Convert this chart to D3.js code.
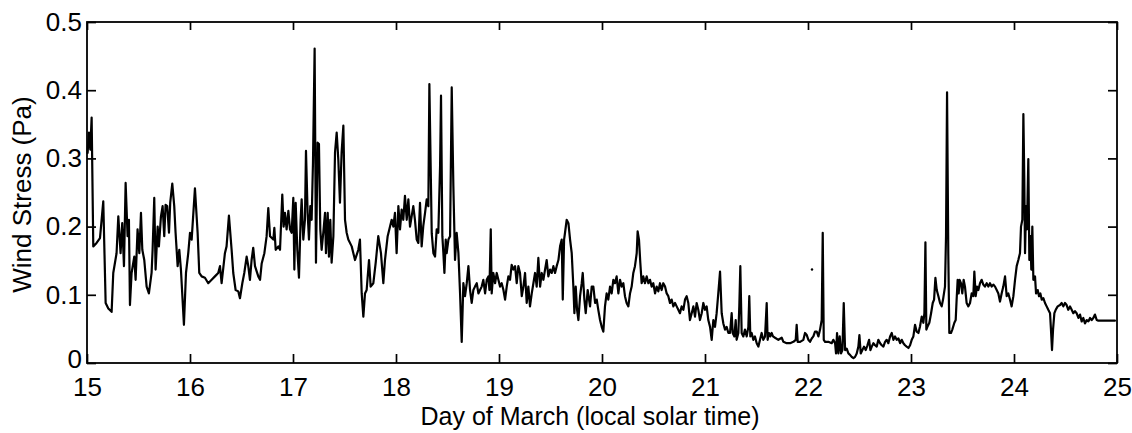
<!DOCTYPE html>
<html>
<head>
<meta charset="utf-8">
<script src="https://cdn.jsdelivr.net/npm/d3@7/dist/d3.min.js"></script>
<style>
  html, body { margin: 0; padding: 0; background: #fff; }
  svg { display: block; }
  text { font-family: "Liberation Sans", Arial, Helvetica, sans-serif; fill: #000; }
</style>
</head>
<body>
<svg id="chart" width="1132" height="433"></svg>
<script>
// Wind stress record, 15-25 March: [day of March, stress in Pa]
const record = [
  [15.006,0.308],[15.019,0.338],[15.032,0.313],[15.045,0.360],[15.061,0.171],[15.093,0.176],[15.126,0.183],[15.158,0.237],[15.181,0.088],[15.207,0.080],[15.239,0.075],[15.255,0.132],[15.287,0.161],[15.304,0.215],[15.326,0.161],[15.342,0.205],[15.359,0.142],[15.375,0.264],[15.394,0.186],[15.407,0.210],[15.417,0.085],[15.433,0.132],[15.459,0.156],[15.472,0.122],[15.491,0.196],[15.508,0.161],[15.524,0.220],[15.537,0.166],[15.556,0.151],[15.579,0.112],[15.601,0.102],[15.627,0.132],[15.637,0.166],[15.653,0.242],[15.666,0.137],[15.686,0.200],[15.698,0.171],[15.718,0.215],[15.734,0.230],[15.750,0.186],[15.763,0.232],[15.779,0.230],[15.796,0.191],[15.808,0.235],[15.828,0.263],[15.847,0.230],[15.860,0.191],[15.880,0.142],[15.896,0.166],[15.912,0.137],[15.941,0.056],[15.961,0.132],[15.983,0.161],[16.000,0.191],[16.016,0.181],[16.048,0.256],[16.074,0.191],[16.090,0.132],[16.113,0.127],[16.145,0.125],[16.177,0.117],[16.210,0.122],[16.242,0.127],[16.274,0.132],[16.291,0.142],[16.307,0.117],[16.339,0.161],[16.355,0.171],[16.378,0.216],[16.404,0.166],[16.420,0.132],[16.443,0.107],[16.469,0.105],[16.485,0.095],[16.508,0.117],[16.527,0.132],[16.550,0.156],[16.566,0.142],[16.582,0.122],[16.598,0.151],[16.614,0.169],
  [16.631,0.142],[16.663,0.127],[16.680,0.122],[16.696,0.146],[16.722,0.161],[16.744,0.186],[16.760,0.227],[16.777,0.186],[16.809,0.181],[16.819,0.198],[16.832,0.166],[16.858,0.171],[16.874,0.166],[16.896,0.247],[16.909,0.200],[16.922,0.220],[16.938,0.196],[16.955,0.223],[16.971,0.196],[16.987,0.191],[17.003,0.242],[17.013,0.137],[17.026,0.235],[17.042,0.166],[17.058,0.125],[17.074,0.210],[17.084,0.240],[17.100,0.181],[17.116,0.210],[17.126,0.311],[17.142,0.220],[17.155,0.181],[17.168,0.230],[17.181,0.210],[17.194,0.294],[17.210,0.461],[17.223,0.147],[17.239,0.323],[17.252,0.321],[17.265,0.196],[17.278,0.166],[17.294,0.191],[17.311,0.220],[17.320,0.161],[17.337,0.220],[17.349,0.156],[17.362,0.210],[17.375,0.147],[17.392,0.186],[17.408,0.309],[17.424,0.338],[17.440,0.298],[17.456,0.235],[17.472,0.309],[17.489,0.348],[17.505,0.210],[17.521,0.191],[17.537,0.181],[17.570,0.171],[17.602,0.151],[17.634,0.166],[17.650,0.181],[17.667,0.102],[17.683,0.068],[17.699,0.102],[17.715,0.107],[17.738,0.151],[17.754,0.112],[17.780,0.117],[17.803,0.147],[17.828,0.186],[17.854,0.161],[17.877,0.117],[17.893,0.151],[17.919,0.186],[17.942,0.200],[17.958,0.210],[17.974,0.200],[17.990,0.220],[18.006,0.161],[18.023,0.230],[18.039,0.196],[18.055,0.225],[18.071,0.210],[18.087,0.245],[18.104,0.210],[18.120,0.240],[18.136,0.200],[18.152,0.215],[18.168,0.230],[18.184,0.210],[18.201,0.181],[18.217,0.176],[18.233,0.235],[18.249,0.171],[18.265,0.201],[18.282,0.220],[18.298,0.240],[18.314,0.230],[18.324,0.409],
  [18.347,0.190],[18.363,0.161],[18.379,0.156],[18.395,0.196],[18.411,0.191],[18.428,0.289],[18.437,0.392],[18.450,0.186],[18.460,0.161],[18.470,0.132],[18.483,0.181],[18.492,0.161],[18.509,0.181],[18.525,0.186],[18.541,0.404],[18.557,0.259],[18.573,0.151],[18.589,0.191],[18.606,0.161],[18.622,0.102],[18.638,0.031],[18.654,0.117],[18.670,0.098],[18.687,0.117],[18.703,0.142],[18.719,0.107],[18.735,0.088],[18.751,0.107],[18.767,0.112],[18.784,0.117],[18.800,0.102],[18.816,0.107],[18.832,0.112],[18.848,0.122],[18.865,0.102],[18.881,0.122],[18.897,0.127],[18.907,0.107],[18.920,0.196],[18.929,0.102],[18.945,0.132],[18.962,0.117],[18.978,0.132],[18.994,0.122],[19.010,0.112],[19.026,0.117],[19.043,0.107],[19.059,0.093],[19.075,0.112],[19.091,0.127],[19.107,0.122],[19.123,0.144],[19.140,0.137],[19.156,0.142],[19.172,0.117],[19.188,0.142],[19.204,0.132],[19.221,0.098],[19.237,0.112],[19.253,0.132],[19.269,0.088],[19.285,0.112],[19.301,0.083],[19.318,0.102],[19.334,0.117],[19.350,0.132],[19.366,0.112],[19.382,0.154],[19.399,0.112],[19.415,0.132],[19.431,0.122],[19.447,0.137],[19.463,0.151],[19.479,0.127],[19.496,0.137],[19.512,0.132],[19.528,0.142],[19.544,0.132],[19.560,0.142],[19.577,0.151],[19.593,0.171],[19.609,0.181],[19.619,0.093],[19.632,0.181],[19.641,0.191],[19.657,0.210],[19.674,0.205],[19.690,0.181],[19.706,0.161],[19.722,0.112],[19.732,0.073],[19.745,0.112],[19.758,0.078],[19.771,0.063],[19.787,0.098],[19.803,0.117],[19.813,0.132],[19.829,0.093],[19.842,0.073],[19.861,0.107],[19.884,0.083],[19.900,0.112],[19.916,0.112],[19.933,0.088],[19.949,0.093],
  [19.964,0.078],[19.981,0.063],[19.997,0.053],[20.013,0.046],[20.029,0.083],[20.045,0.102],[20.061,0.093],[20.078,0.112],[20.094,0.102],[20.110,0.122],[20.126,0.117],[20.142,0.127],[20.159,0.102],[20.175,0.122],[20.191,0.112],[20.207,0.117],[20.223,0.098],[20.239,0.088],[20.256,0.083],[20.272,0.102],[20.288,0.112],[20.304,0.132],[20.320,0.142],[20.337,0.161],[20.346,0.193],[20.359,0.181],[20.372,0.147],[20.385,0.117],[20.401,0.127],[20.417,0.117],[20.434,0.127],[20.450,0.117],[20.466,0.122],[20.482,0.112],[20.498,0.117],[20.515,0.102],[20.531,0.112],[20.547,0.105],[20.563,0.117],[20.579,0.107],[20.595,0.117],[20.612,0.112],[20.628,0.102],[20.644,0.098],[20.660,0.088],[20.676,0.093],[20.693,0.083],[20.709,0.088],[20.725,0.083],[20.741,0.078],[20.757,0.073],[20.773,0.083],[20.790,0.078],[20.806,0.093],[20.822,0.098],[20.838,0.088],[20.854,0.063],[20.871,0.073],[20.887,0.083],[20.903,0.068],[20.919,0.088],[20.935,0.078],[20.951,0.063],[20.968,0.073],[20.984,0.088],[21.000,0.078],[21.016,0.083],[21.032,0.063],[21.049,0.053],[21.065,0.034],[21.081,0.063],[21.097,0.053],[21.113,0.073],[21.129,0.102],[21.146,0.134],[21.162,0.073],[21.178,0.058],[21.194,0.049],[21.210,0.053],[21.227,0.044],[21.243,0.044],[21.259,0.073],[21.269,0.044],[21.285,0.039],[21.298,0.063],[21.307,0.034],[21.324,0.044],[21.333,0.083],[21.343,0.142],[21.356,0.044],[21.372,0.039],[21.388,0.049],[21.405,0.039],[21.421,0.053],[21.430,0.098],[21.440,0.039],[21.453,0.044],[21.469,0.034],[21.485,0.039],[21.502,0.029],[21.518,0.024],[21.534,0.034],[21.550,0.044],[21.566,0.034],[21.583,0.039],[21.599,0.088],[21.608,0.034],[21.621,0.044],[21.634,0.039],[21.647,0.044],[21.660,0.039],
  [21.680,0.037],[21.712,0.034],[21.745,0.037],[21.761,0.031],[21.793,0.029],[21.826,0.029],[21.858,0.031],[21.881,0.034],[21.890,0.056],[21.900,0.031],[21.923,0.031],[21.955,0.034],[21.971,0.044],[21.988,0.041],[22.004,0.034],[22.020,0.031],[22.036,0.036],[22.052,0.039],[22.068,0.046],[22.085,0.046],[22.101,0.039],[22.117,0.049],[22.133,0.063],[22.143,0.191],[22.153,0.034],[22.166,0.031],[22.198,0.031],[22.230,0.029],[22.246,0.034],[22.263,0.029],[22.272,0.014],[22.282,0.044],[22.295,0.014],[22.308,0.039],[22.321,0.014],[22.334,0.019],[22.347,0.088],[22.360,0.019],[22.376,0.021],[22.392,0.014],[22.408,0.012],[22.424,0.009],[22.441,0.007],[22.457,0.009],[22.473,0.014],[22.489,0.024],[22.499,0.041],[22.512,0.014],[22.528,0.019],[22.544,0.024],[22.560,0.019],[22.577,0.026],[22.593,0.034],[22.606,0.019],[22.619,0.024],[22.635,0.029],[22.651,0.026],[22.667,0.024],[22.683,0.034],[22.700,0.029],[22.716,0.026],[22.732,0.024],[22.748,0.031],[22.764,0.034],[22.780,0.029],[22.797,0.039],[22.813,0.044],[22.829,0.034],[22.845,0.039],[22.861,0.034],[22.878,0.036],[22.894,0.029],[22.910,0.034],[22.926,0.029],[22.942,0.026],[22.958,0.024],[22.975,0.022],[22.991,0.026],[23.007,0.034],[23.023,0.039],[23.039,0.056],[23.055,0.046],[23.072,0.044],[23.088,0.054],[23.104,0.068],[23.120,0.059],[23.130,0.073],[23.140,0.177],[23.149,0.049],[23.162,0.054],[23.178,0.059],[23.195,0.073],[23.211,0.088],[23.224,0.093],[23.237,0.125],[23.250,0.107],[23.266,0.098],[23.282,0.088],[23.298,0.083],[23.311,0.093],
  [23.330,0.112],[23.340,0.186],[23.350,0.397],[23.362,0.161],[23.372,0.044],[23.388,0.044],[23.401,0.049],[23.421,0.059],[23.434,0.063],[23.443,0.093],[23.453,0.122],[23.463,0.102],[23.472,0.122],[23.485,0.117],[23.498,0.102],[23.511,0.122],[23.524,0.112],[23.540,0.088],[23.557,0.083],[23.573,0.088],[23.589,0.102],[23.605,0.098],[23.615,0.134],[23.628,0.098],[23.641,0.112],[23.654,0.107],[23.670,0.117],[23.686,0.122],[23.702,0.115],[23.718,0.112],[23.735,0.117],[23.751,0.112],[23.767,0.117],[23.783,0.112],[23.799,0.115],[23.816,0.112],[23.832,0.107],[23.848,0.102],[23.864,0.090],[23.880,0.102],[23.896,0.112],[23.913,0.127],[23.929,0.098],[23.945,0.102],[23.961,0.093],[23.977,0.083],[23.994,0.098],[24.010,0.122],[24.026,0.142],[24.042,0.151],[24.058,0.161],[24.068,0.200],[24.081,0.210],[24.091,0.365],[24.100,0.269],[24.107,0.161],[24.117,0.230],[24.126,0.196],[24.139,0.299],[24.149,0.151],[24.159,0.186],[24.168,0.137],[24.178,0.200],[24.188,0.122],[24.204,0.127],[24.214,0.102],[24.230,0.107],[24.243,0.098],[24.256,0.102],[24.269,0.093],[24.285,0.095],[24.301,0.088],[24.317,0.083],[24.333,0.078],[24.350,0.073],[24.359,0.049],[24.369,0.019],[24.379,0.049],[24.392,0.073],[24.405,0.078],[24.424,0.083],[24.447,0.085],[24.463,0.088],[24.479,0.083],[24.495,0.088],[24.511,0.085],[24.527,0.078],[24.544,0.083],[24.560,0.078],[24.576,0.073],[24.592,0.076],[24.608,0.073],[24.625,0.066],[24.641,0.071],[24.657,0.061],[24.673,0.066],[24.689,0.058],[24.706,0.063],[24.722,0.061],[24.738,0.066],[24.754,0.063],[24.770,0.066],[24.786,0.071],[24.803,0.063],[24.819,0.062],[24.851,0.062],[24.883,0.062],[24.916,0.062],[24.948,0.062],[24.980,0.062]
];

// A lone sample standing apart from the trace
const loneSample = [[22.039, 0.137]];

const xTicks = [15, 16, 17, 18, 19, 20, 21, 22, 23, 24, 25];
const yTicks = [0, 0.1, 0.2, 0.3, 0.4, 0.5];
const yTickLabels = ["0", "0.1", "0.2", "0.3", "0.4", "0.5"];

const xTitle = "Day of March (local solar time)";
const yTitle = "Wind Stress (Pa)";

const svg = d3.select("#chart");
const margin = { left: 87, right: 15, top: 22, bottom: 70 };
const W = +svg.attr("width"), H = +svg.attr("height");
const plotW = W - margin.left - margin.right;
const plotH = H - margin.top - margin.bottom;

const x = d3.scaleLinear().domain([15, 25]).range([0, plotW]);
const y = d3.scaleLinear().domain([0, 0.5]).range([plotH, 0]);

const g = svg.append("g").attr("transform", `translate(${margin.left},${margin.top})`);

const fontSize = 26;

function styleAxis(sel) {
  sel.select(".domain").remove();
  sel.selectAll(".tick line").attr("stroke", "#000").attr("stroke-width", 1.7);
  sel.selectAll(".tick text").style("font-size", fontSize + "px").attr("fill", "#000");
}

// bottom axis with labels, ticks pointing inward
g.append("g")
  .attr("transform", `translate(0,${plotH})`)
  .call(d3.axisBottom(x).tickValues(xTicks).tickSize(-9).tickPadding(15).tickFormat(d3.format("d")))
  .call(styleAxis);

// top axis, ticks only
g.append("g")
  .call(d3.axisTop(x).tickValues(xTicks).tickSize(-8).tickFormat(""))
  .call(styleAxis);

// left axis with labels; the zero label sits a little high, clear of the day labels
g.append("g")
  .call(d3.axisLeft(y).tickValues(yTicks).tickSize(-9).tickPadding(5)
    .tickFormat((d, i) => yTickLabels[i]))
  .call(styleAxis)
  .call(sel => sel.selectAll(".tick text")
    .filter(d => d === 0)
    .attr("y", -4));

// right axis, ticks only
g.append("g")
  .attr("transform", `translate(${plotW},0)`)
  .call(d3.axisRight(y).tickValues(yTicks).tickSize(-9).tickFormat(""))
  .call(styleAxis);

// frame
g.append("rect")
  .attr("x", 0).attr("y", 0)
  .attr("width", plotW).attr("height", plotH)
  .attr("fill", "none").attr("stroke", "#000").attr("stroke-width", 1.8);

// wind stress trace
const line = d3.line()
  .x(d => x(d[0]))
  .y(d => y(d[1]));

g.append("path")
  .datum(record)
  .attr("d", line)
  .attr("fill", "none")
  .attr("stroke", "#000")
  .attr("stroke-width", 2.2)
  .attr("stroke-linejoin", "round")
  .attr("stroke-linecap", "round");

g.selectAll("circle.lone")
  .data(loneSample)
  .join("circle")
  .attr("class", "lone")
  .attr("cx", d => x(d[0]))
  .attr("cy", d => y(d[1]))
  .attr("r", 1.2)
  .attr("fill", "#000");

// axis titles
svg.append("text")
  .attr("x", 590)
  .attr("y", 425)
  .attr("text-anchor", "middle")
  .style("font-size", "25px")
  .text(xTitle);

svg.append("text")
  .attr("transform", `translate(31,${margin.top + plotH / 2 + 2}) rotate(-90)`)
  .attr("text-anchor", "middle")
  .style("font-size", "26px")
  .text(yTitle);
</script>
</body>
</html>
